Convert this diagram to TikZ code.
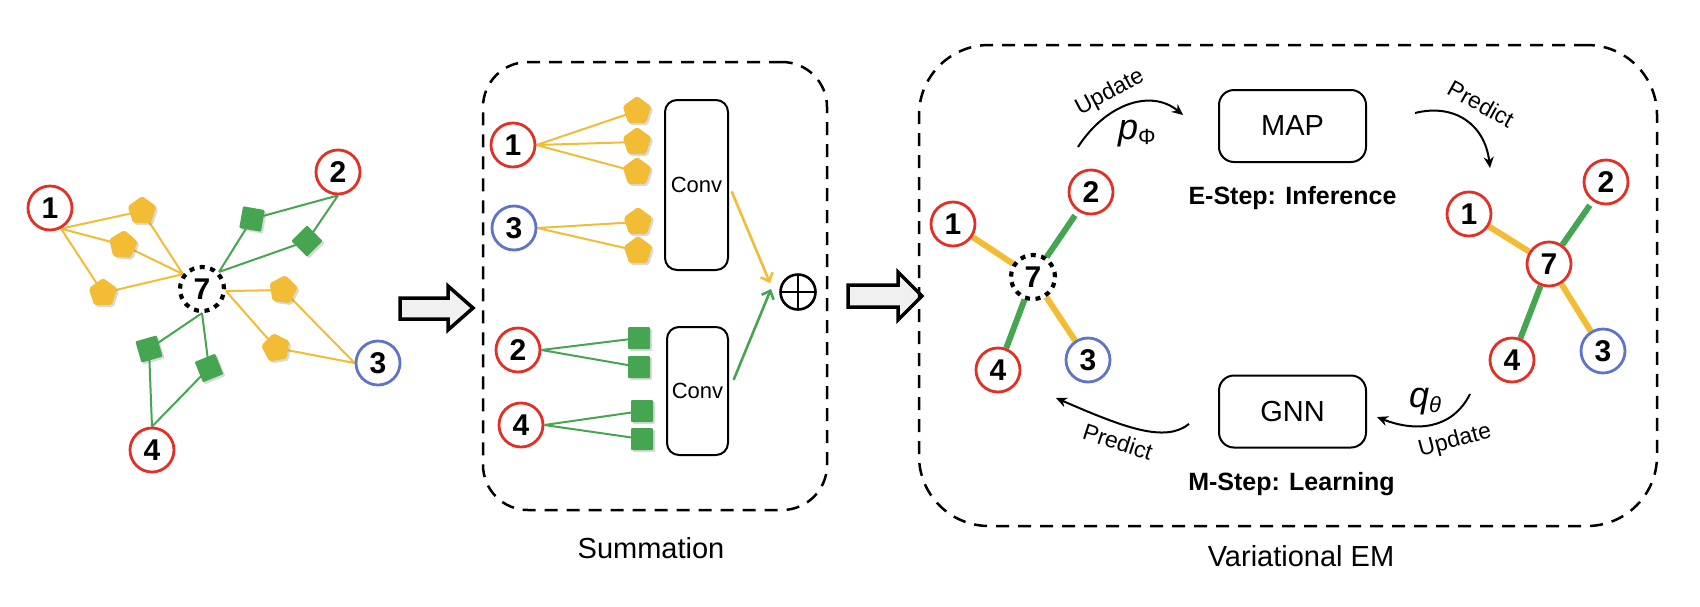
\documentclass[tikz,border=0pt]{standalone}
\usepackage{fontspec}
\setmainfont{Liberation Sans}
\usetikzlibrary{shapes.geometric,arrows.meta,shadows,backgrounds}
\definecolor{cred}{RGB}{226,48,38}
\definecolor{cblue}{RGB}{95,115,205}
\definecolor{cyel}{RGB}{242,188,52}
\definecolor{cgrn}{RGB}{70,165,80}
\begin{document}
\begin{tikzpicture}[x=1pt,y=-1pt,
  num/.style={circle,draw=cred,line width=2.8pt,minimum size=44pt,inner sep=0pt,fill=white,font=\bfseries\fontsize{30}{30}\selectfont},
  numb/.style={num,draw=cblue},
  dotn/.style={num,draw=black,line width=4.2pt,dash pattern=on 5pt off 5.6pt},
  shad/.style={drop shadow={shadow xshift=2pt,shadow yshift=-2pt,opacity=.3}},
  pent/.style={regular polygon,regular polygon sides=5,fill=cyel,minimum size=30pt,inner sep=0pt,rounded corners=2pt,shad},
  sq/.style={rectangle,fill=cgrn,minimum size=22pt,inner sep=0pt,rounded corners=1pt,shad},
  ye/.style={cyel,line width=2pt},
  ge/.style={cgrn,line width=2pt},
  yt/.style={cyel,line width=6pt},
  gt/.style={cgrn,line width=6pt},
  cbox/.style={draw,rounded corners=12pt,line width=2pt,inner sep=0pt,font=\fontsize{22}{22}\selectfont},
  bbox/.style={draw,rounded corners=15pt,line width=2pt,minimum width=147pt,minimum height=72pt,font=\fontsize{29}{29}\selectfont},
  dbox/.style={draw,line width=2.5pt,dash pattern=on 13pt off 9pt,inner sep=0pt},
  bigarrow/.style={draw,fill=gray!12,line width=3.5pt,line join=miter},
  carrow/.style={line width=2pt,-{Stealth[length=11pt,width=10pt,inset=3.5pt]}},
  lab/.style={font=\fontsize{23}{23}\selectfont,inner sep=0pt},
  big/.style={font=\fontsize{29}{29}\selectfont,anchor=base,inner sep=0pt},
  step/.append style={},
]
\useasboundingbox (0,0) rectangle (1700,606);

% ---------- left graph ----------
\node[num] (a1) at (50,208) {1};
\node[num] (a2) at (338,172) {2};
\node[numb] (a3) at (378,363) {3};
\node[num] (a4) at (152,450) {4};
\node[dotn] (a7) at (202,289) {7};
\node[pent] (ap1) at (142,211) {};
\node[pent,rotate=-5] (ap2) at (123,245) {};
\node[pent] (ap3) at (103,293) {};
\node[pent,rotate=-8] (ap4) at (283,290) {};
\node[pent,rotate=10] (ap5) at (276,348) {};
\node[sq,rotate=-10] (as1) at (252,219) {};
\node[sq,rotate=45] (as2) at (307,241) {};
\node[sq,rotate=16] (as3) at (149,349) {};
\node[sq,rotate=22] (as4) at (209,368) {};
\begin{pgfonlayer}{background}
\draw[ye] (a1.-62) -- (ap1.center) (a1.-62) -- (ap2.center) (a1.-62) -- (ap3.center);
\draw[ye] (ap1.center) -- (a7.142) (ap2.center) -- (a7.142) (ap3.center) -- (a7.142);
\draw[ye] (a7.-5) -- (ap4.center) (a7.-5) -- (ap5.center);
\draw[ye] (ap4.center) -- (a3.west) (ap5.center) -- (a3.west);
\draw[ge] (a2.south) -- (as1.center) (a2.south) -- (as2.center);
\draw[ge] (as1.center) -- (a7.45) (as2.center) -- (a7.45);
\draw[ge] (a4.north) -- (as3.center) (a4.north) -- (as4.center);
\draw[ge] (as3.center) -- (a7.-90) (as4.center) -- (a7.-90);
\end{pgfonlayer}

% big arrows
\draw[bigarrow] (400,298) -- (448,298) -- (448,286) -- (473,308) -- (448,330) -- (448,319) -- (400,319) -- cycle;
\draw[bigarrow] (848,285) -- (898,285) -- (898,272) -- (922,296) -- (898,320) -- (898,307) -- (848,307) -- cycle;

% ---------- middle box ----------
\node[dbox,rounded corners=45pt,minimum width=344pt,minimum height=448pt] (sbox) at (655,286) {};
\node[num] (m1) at (513,145) {1};
\node[numb] (m3) at (514,228) {3};
\node[num] (m2) at (518,350) {2};
\node[num] (m4) at (521,425) {4};
\node[pent] (mp1) at (637,111) {};
\node[pent] (mp2) at (637,142) {};
\node[pent] (mp3) at (637,172) {};
\node[pent] (mp4) at (638,222) {};
\node[pent] (mp5) at (638,251) {};
\node[sq] (ms1) at (639,338) {};
\node[sq] (ms2) at (639,367) {};
\node[sq] (ms3) at (642,411) {};
\node[sq] (ms4) at (642,439) {};
\begin{pgfonlayer}{background}
\draw[ye] (m1.east) -- (mp1.center) (m1.east) -- (mp2.center) (m1.east) -- (mp3.center);
\draw[ye] (m3.east) -- (mp4.center) (m3.east) -- (mp5.center);
\draw[ge] (m2.east) -- (ms1.center) (m2.east) -- (ms2.center);
\draw[ge] (m4.east) -- (ms3.center) (m4.east) -- (ms4.center);
\end{pgfonlayer}
\node[cbox,minimum width=63pt,minimum height=170pt] (c1) at (696.5,185) {Conv};
\node[cbox,minimum width=61pt,minimum height=128pt] (c2) at (697.5,391) {Conv};
\node[circle,draw,line width=2.6pt,minimum size=35pt,inner sep=0pt,
  path picture={\draw[line width=2.6pt] (path picture bounding box.north) -- (path picture bounding box.south) (path picture bounding box.west) -- (path picture bounding box.east);}] (op) at (798,292) {};
\coordinate (j1) at (770,283);
\coordinate (j2) at (771,289);
\draw[cyel,line width=2.6pt,-{Straight Barb[length=7pt,width=13pt]},shorten <=7pt] (c1.east) -- (j1);
\draw[cgrn,line width=2.6pt,-{Straight Barb[length=7pt,width=13pt]},shorten <=12pt] (c2.east) -- (j2);
\node[big] (summ) at (651,558) {Summation};

% ---------- right box ----------
\node[dbox,rounded corners=70pt,minimum width=738pt,minimum height=481pt] (vbox) at (1288,285.5) {};
\node[num] (e1) at (953,224) {1};
\node[num] (e2) at (1091,192) {2};
\node[dotn] (e7) at (1033,277) {7};
\node[num] (e4) at (998,370) {4};
\node[numb] (e3) at (1088,360) {3};
\begin{pgfonlayer}{background}
\draw[yt] (e1) -- (e7);
\draw[gt,shorten <=5pt] (e2) -- (e7);
\draw[gt] (e4) -- (e7);
\draw[yt] (e3) -- (e7);
\end{pgfonlayer}
\node[num] (r1) at (1469,214) {1};
\node[num] (r2) at (1606,182) {2};
\node[num] (r7) at (1549,264) {7};
\node[num] (r4) at (1512,360) {4};
\node[numb] (r3) at (1603,351) {3};
\begin{pgfonlayer}{background}
\draw[yt] (r1) -- (r7);
\draw[gt,shorten <=5pt] (r2) -- (r7);
\draw[gt] (r4) -- (r7);
\draw[yt] (r3) -- (r7);
\end{pgfonlayer}
\node[bbox] (map) at (1292.5,126) {MAP};
\node[bbox] (gnn) at (1292.5,411.5) {GNN};
\node[font=\bfseries\fontsize{25}{25}\selectfont,anchor=base,inner sep=0pt] (estep) at (1292.5,204) {E-Step: Inference};
\node[font=\bfseries\fontsize{25}{25}\selectfont,anchor=base,inner sep=0pt] (mstep) at (1291.5,490) {M-Step: Learning};

% curved arrows
\coordinate (u1s) at (1078,147);
\coordinate (u1e) at (1183,115);
\draw[carrow] (u1s) .. controls (1105,105) and (1150,88) .. (u1e);
\node[lab,rotate=28] (upd1) at (1110,93) {Update};
\node[anchor=base,inner sep=0pt] (pphi) at (1137,139) {\fontsize{36}{36}\selectfont\itshape p\/\raisebox{-5pt}{\upshape\fontsize{22}{22}\selectfont Φ}};

\coordinate (p1s) at (1415,113);
\coordinate (p1e) at (1490,168);
\draw[carrow] (p1s) .. controls (1455,103) and (1485,125) .. (p1e);
\node[lab,rotate=-29] (pred1) at (1481,104) {Predict};

\coordinate (u2s) at (1470,394);
\coordinate (u2e) at (1377,417);
\draw[carrow] (u2s) .. controls (1452,430) and (1415,432) .. (u2e);
\node[lab,rotate=15] (upd2) at (1455,441) {Update};
\node[anchor=base,inner sep=0pt] (qth) at (1425,407) {\fontsize{36}{36}\selectfont\itshape q\/\raisebox{-5pt}{\fontsize{22}{22}\selectfont θ}};

\coordinate (p2s) at (1189,424);
\coordinate (p2e) at (1056,398);
\draw[carrow] (p2s) .. controls (1165,443) and (1125,428) .. (p2e);
\node[lab,rotate=-18] (pred2) at (1118,442) {Predict};

\node[big] (vem) at (1301,566) {Variational EM};
\end{tikzpicture}
\end{document}
